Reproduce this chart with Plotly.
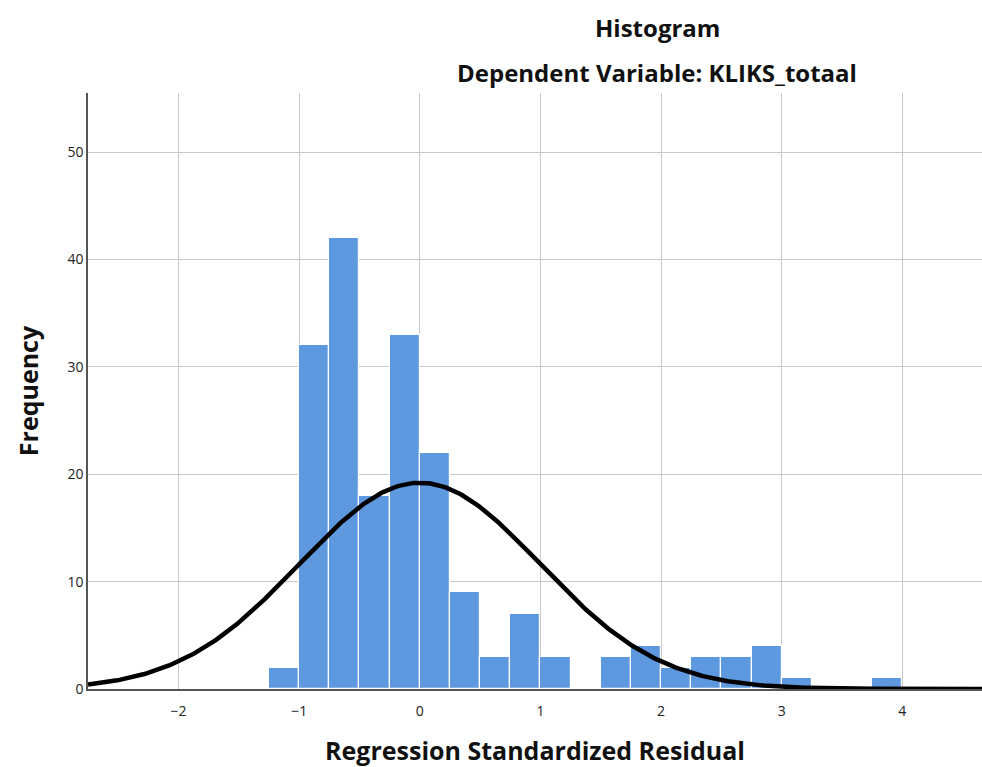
import numpy as np
import plotly.graph_objects as go

bin_left = [-1.25, -1.0, -0.75, -0.5, -0.25, 0.0, 0.25, 0.5, 0.75, 1.0, 1.5, 1.75, 2.0, 2.25, 2.5, 2.75, 3.0, 3.75]
counts = [2, 32, 42, 18, 33, 22, 9, 3, 7, 3, 3, 4, 2, 3, 3, 4, 1, 1]
bin_width = 0.25
res_mean = 0.0
res_std = 0.997
n_total = sum(counts)

x_ticks = [-2, -1, 0, 1, 2, 3, 4]
y_ticks = [0, 10, 20, 30, 40, 50]

centers = [b + bin_width / 2 for b in bin_left]
xs = np.linspace(-2.75, 4.7, 400)
ys = n_total * bin_width / (res_std * np.sqrt(2 * np.pi)) * np.exp(-0.5 * ((xs - res_mean) / res_std) ** 2)

fig = go.Figure()
fig.add_trace(go.Bar(x=centers, y=counts, width=bin_width,
                     marker=dict(color="rgb(94,152,222)", line=dict(color="white", width=1.2)),
                     showlegend=False))
fig.add_trace(go.Scatter(x=xs, y=ys, mode="lines", line=dict(color="black", width=4.5), showlegend=False))

font_family = "Open Sans"
fig.update_layout(
    width=982, height=767,
    margin=dict(l=88, r=0, t=93, b=78),
    plot_bgcolor="white", paper_bgcolor="white",
    bargap=0,
    font=dict(family=font_family, color="#222"),
    annotations=[
        dict(text="<b>Histogram</b>", x=657, y=27, xref="paper", yref="paper", showarrow=False,
             font=dict(size=24, color="#111")),
        dict(text="<b>Dependent Variable: KLIKS_totaal</b>", x=657, y=73, xref="paper", yref="paper",
             showarrow=False, font=dict(size=24, color="#111")),
    ],
)
pw, ph = 982 - 88 - 0, 767 - 93 - 78
for a in fig.layout.annotations:
    px, py = a.x, a.y
    a.x = (px - 88) / pw
    a.y = (767 - 78 - py) / ph
    a.yanchor = "middle"
    a.xanchor = "center"

fig.update_xaxes(range=[-2.75, 4.66], tickvals=x_ticks, showgrid=True, gridcolor="#c8c8c8", gridwidth=1,
                 zeroline=False, showline=True, linecolor="#555", linewidth=1.5,
                 ticks="", ticklabelstandoff=8, tickfont=dict(size=14, color="#222"),
                 title=dict(text="<b>Regression Standardized Residual</b>", font=dict(size=25, color="#111"), standoff=24))
fig.update_yaxes(range=[0, 55.5], tickvals=y_ticks, showgrid=True, gridcolor="#c8c8c8", gridwidth=1,
                 zeroline=False, showline=True, linecolor="#555", linewidth=1.5,
                 ticks="", tickfont=dict(size=14, color="#222"),
                 title=dict(text="<b>Frequency</b>", font=dict(size=25, color="#111"), standoff=22))

fig.write_html("out.html")
